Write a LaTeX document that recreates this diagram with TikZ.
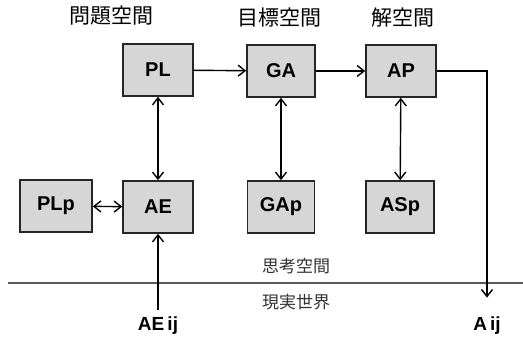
\documentclass[tikz,border=0pt]{standalone}
\usepackage{fontspec}
\setmainfont{Liberation Sans}
\newfontfamily\jp{Noto Sans CJK JP}
\usetikzlibrary{arrows.meta}
\begin{document}
\begin{tikzpicture}[x=1pt,y=-1pt,
  box/.style={draw=black!85,line width=1.6pt,fill=black!16,minimum width=70pt,minimum height=52pt,inner sep=0pt,font=\fontsize{20}{20}\selectfont\bfseries},
  conn/.style={line width=1.4pt,-{Straight Barb[length=7pt,width=11pt]}},
  biconn/.style={line width=1.4pt,{Straight Barb[length=7pt,width=11pt]}-{Straight Barb[length=7pt,width=11pt]}},
  title/.style={font=\jp\fontsize{21}{21}\selectfont},
  world/.style={font=\jp\fontsize{17}{17}\selectfont,text=black!80},
  lbl/.style={font=\fontsize{19}{19}\selectfont\bfseries}]
\useasboundingbox (0,0) rectangle (523,347);
\node[title] (t1) at (112,16) {問題空間};
\node[title] (t2) at (279,18) {目標空間};
\node[title] (t3) at (403,18) {解空間};
\node[box] (PL) at (158,70) {PL};
\node[box,minimum width=68pt] (GA) at (281,71) {GA};
\node[box] (AP) at (401,71) {AP};
\node[box,minimum width=72pt] (PLp) at (56,206) {PLp};
\node[box] (AE) at (158,207) {AE};
\node[box,minimum width=67pt] (GAp) at (281,207) {GAp};
\node[box,minimum width=68pt] (ASp) at (400,207) {ASp};
\node[lbl] (AEij) at (158,326) {AE\,ij};
\node[lbl] (Aij) at (487,326) {A\,ij};
\node[world] (think) at (296,266) {思考空間};
\node[world] (real) at (296,302) {現実世界};
\coordinate (L) at (8,283);
\coordinate (R) at (523,283);
\draw[line width=2pt,black!65] (L) -- (R);
\draw[conn] (PL) -- (GA);
\draw[conn] (GA) -- (AP);
\draw[biconn] (PL) -- (AE);
\draw[biconn] (GA) -- (GAp);
\draw[biconn] (AP) -- (ASp);
\draw[biconn] (PLp) -- (AE);
\draw[conn] (AEij.north) ++(0,-4) -- (AE);
\draw[conn] (AP.east) -| ([yshift=16pt]Aij.north);
\end{tikzpicture}
\end{document}
